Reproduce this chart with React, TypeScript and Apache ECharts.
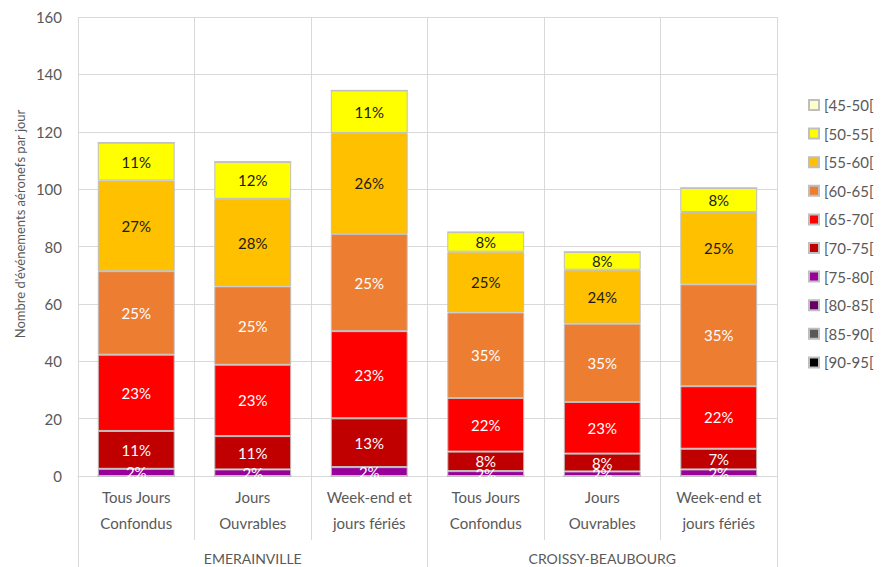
import React, { useEffect, useRef } from "react";
import * as echarts from "echarts";

const categories = [
  "Tous Jours\nConfondus",
  "Jours\nOuvrables",
  "Week-end et\njours fériés",
  "Tous Jours\nConfondus",
  "Jours\nOuvrables",
  "Week-end et\njours fériés",
];
const groups = ["EMERAINVILLE", "CROISSY-BEAUBOURG"];

const yMin = 0;
const yMax = 160;
const yInterval = 20;
const yName = "Nombre d'événements aéronefs par jour";

const seriesNames = [
  "[45-50[",
  "[50-55[",
  "[55-60[",
  "[60-65[",
  "[65-70[",
  "[70-75[",
  "[75-80[",
  "[80-85[",
  "[85-90[",
  "[90-95[",
];

const v45_50 = [0, 0, 0, 0, 0, 0];
const v50_55 = [13.2, 12.9, 14.8, 6.8, 6.2, 8.4];
const v55_60 = [31.6, 30.5, 35.2, 21.2, 18.8, 25.2];
const v60_65 = [29.1, 27.3, 33.9, 29.8, 27.3, 35.5];
const v65_70 = [26.6, 24.9, 30.4, 18.7, 18.0, 21.8];
const v70_75 = [13.2, 11.6, 17.0, 6.8, 6.2, 7.2];
const v75_80 = [2.5, 2.3, 3.1, 1.7, 1.6, 2.3];
const v80_85 = [0, 0, 0, 0, 0, 0];
const v85_90 = [0, 0, 0, 0, 0, 0];
const v90_95 = [0, 0, 0, 0, 0, 0];

const seriesValues = [v45_50, v50_55, v55_60, v60_65, v65_70, v70_75, v75_80, v80_85, v85_90, v90_95];
const seriesColors = [
  "#FFFFCC",
  "#FFFF00",
  "#FFC000",
  "#ED7D31",
  "#FF0000",
  "#C00000",
  "#990099",
  "#660066",
  "#595959",
  "#000000",
];
const labelColors = ["#000000", "#1a1a1a", "#1a1a1a", "#ffffff", "#ffffff", "#ffffff", "#ffffff", "#ffffff", "#ffffff", "#ffffff"];

const FONT = "Lato, 'Open Sans', sans-serif";

export default function App() {
  const ref = useRef<HTMLDivElement>(null);
  useEffect(() => {
    if (!ref.current) return;
    const chart = echarts.init(ref.current, null, { renderer: "svg" });
    const totals = categories.map((_, i) => seriesValues.reduce((s, arr) => s + arr[i], 0));

    // stack bottom-up: 90-95 first
    const order = seriesNames.map((_, i) => i).reverse();
    const series = order.map((idx) => ({
      name: seriesNames[idx],
      type: "bar",
      stack: "total",
      barCategoryGap: "34%",
      data: seriesValues[idx],
      itemStyle: { color: seriesColors[idx], borderColor: "#BFBFBF", borderWidth: 1 },
      label: {
        show: true,
        position: "inside",
        color: labelColors[idx],
        fontFamily: FONT,
        fontSize: 15,
        formatter: (p: any) => {
          if (!p.value) return "";
          return Math.round((p.value / totals[p.dataIndex]) * 100) + "%";
        },
      },
    }));

    chart.setOption({
      animation: false,
      textStyle: { fontFamily: FONT },
      grid: { left: 78, right: 106, top: 17, bottom: 90.4, containLabel: false },
      legend: {
        orient: "vertical",
        left: 808,
        top: 97,
        padding: 0,
        itemWidth: 10,
        itemHeight: 10,
        itemGap: 12.6,
        icon: "rect",
        data: seriesNames,
        textStyle: { fontFamily: FONT, fontSize: 15, color: "#595959", lineHeight: 16 },
      },
      graphic: [
        {
          type: "text",
          x: 20,
          y: 224,
          rotation: Math.PI / 2,
          style: {
            text: yName,
            fill: "#595959",
            fontFamily: FONT,
            fontSize: 13,
            align: "center",
            verticalAlign: "middle",
          },
        },
      ],
      xAxis: [
        {
          type: "category",
          data: categories,
          position: "bottom",
          axisLine: { show: true, lineStyle: { color: "#D9D9D9" } },
          axisTick: { show: true, length: 64, lineStyle: { color: "#D9D9D9" } },
          splitLine: { show: true, lineStyle: { color: "#D9D9D9" } },
          axisLabel: {
            margin: 8,
            color: "#595959",
            fontFamily: FONT,
            fontSize: 15,
            lineHeight: 26,
            interval: 0,
          },
        },
        {
          type: "category",
          data: groups,
          position: "bottom",
          axisLine: { show: false },
          axisTick: { show: true, length: 91, lineStyle: { color: "#D9D9D9" } },
          splitLine: { show: false },
          axisLabel: {
            margin: 73,
            color: "#595959",
            fontFamily: FONT,
            fontSize: 14,
            lineHeight: 18,
            interval: 0,
          },
        },
      ],
      yAxis: {
        type: "value",
        min: yMin,
        max: yMax,
        interval: yInterval,
        axisLine: { show: false },
        axisTick: { show: false },
        splitLine: { show: true, lineStyle: { color: "#D9D9D9" } },
        axisLabel: { color: "#595959", fontFamily: FONT, fontSize: 15, margin: 16 },
      },
      series,
    });
    return () => chart.dispose();
  }, []);
  return (
    <div
      ref={ref}
      style={{ position: "fixed", left: 0, top: 0, width: 883, height: 567, background: "#fff" }}
    />
  );
}
